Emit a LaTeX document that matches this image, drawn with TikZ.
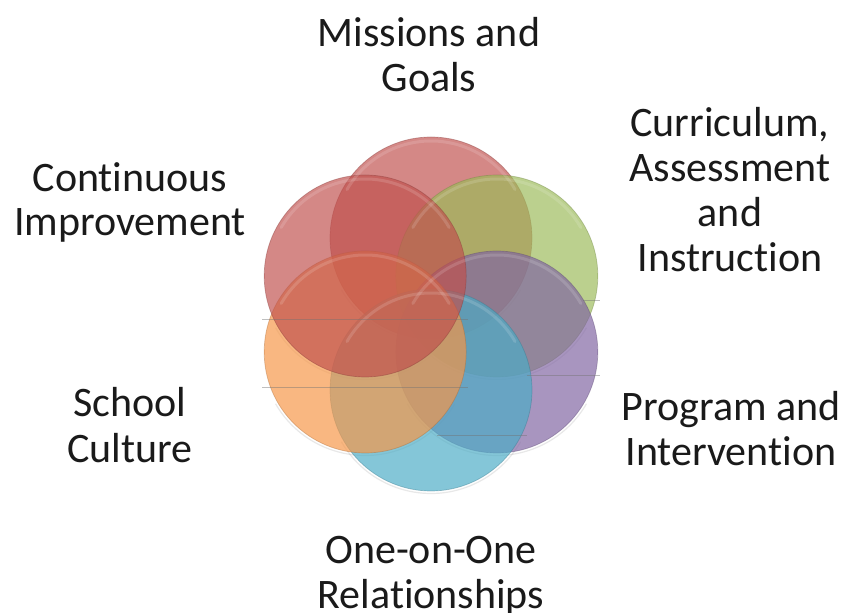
\documentclass[tikz,border=0pt]{standalone}
\usepackage{fontspec}
\setmainfont{Carlito}[RawFeature={-liga}]
\usetikzlibrary{calc}
\definecolor{accRed}{HTML}{C0504D}
\definecolor{accGreen}{HTML}{9BBB59}
\definecolor{accPurple}{HTML}{8064A2}
\definecolor{accAqua}{HTML}{4BACC6}
\definecolor{accOrange}{HTML}{F79646}
\definecolor{labelInk}{HTML}{1A1A1A}
\begin{document}
\begin{tikzpicture}[x=1pt,y=1pt]
\tikzset{
  petal/.style={circle, minimum size=202pt, inner sep=0pt, outer sep=0pt,
    fill=#1, fill opacity=0.68, draw=#1!70!black, draw opacity=0.4, line width=0.7pt},
  gloss/.style={white, opacity=0.14, line width=3pt, line cap=round},
  halo/.style={black!35, opacity=0.25, line width=1.2pt},
  seam/.style={black!55, opacity=0.45, line width=0.7pt},
  lbl/.style={font=\fontsize{42}{45}\selectfont, text=labelInk, anchor=base, inner sep=0pt},
}
\useasboundingbox (0,0) rectangle (844,613);
\fill[white] (0,0) rectangle (844,613);

% hub of the six overlapping circles
\coordinate (hub) at (431,299);

% faint rim below each circle
\foreach \a in {90,30,-30,-90,-150,150}
  \draw[halo] ($(hub)+(\a:76)+(-150:103.5)$) arc[start angle=-150, end angle=-30, radius=103.5];

% the six circles, back to front
\node[petal=accRed]    (goals)      at ($(hub)+(90:76)$)   {};
\node[petal=accGreen]  (curriculum) at ($(hub)+(30:76)$)   {};
\node[petal=accPurple] (program)    at ($(hub)+(-30:76)$)  {};
\node[petal=accAqua]   (relations)  at ($(hub)+(-90:76)$)  {};
\node[petal=accOrange] (culture)    at ($(hub)+(-150:76)$) {};
\node[petal=accRed]    (improve)    at ($(hub)+(150:76)$)  {};

% glossy band inside the top rim
\foreach \n in {goals,curriculum,program,relations,culture,improve}
  \draw[gloss] ([shift={(150:97)}]\n.center) arc[start angle=150, end angle=30, radius=97];

% thin seams across the cluster
\draw[seam] (262,294) -- (468,294);
\draw[seam] (262,226) -- (468,226);
\draw[seam] (527,238) -- (600,238);
\draw[seam] (583,313) -- (600,313);
\draw[seam] (437,178) -- (527,178);

% labels
\node[lbl] (goals-a) at (429,566) {Missions and};
\node[lbl] (goals-b) at (429,521) {Goals};

\node[lbl] (curr-a) at (730,476) {Curriculum,};
\node[lbl] (curr-b) at (730,431) {Assessment};
\node[lbl] (curr-c) at (730,386) {and};
\node[lbl] (curr-d) at (730,341) {Instruction};

\node[lbl] (impr-a) at (130,421) {Continuous};
\node[lbl] (impr-b) at (130,377) {Improvement};

\node[lbl] (cult-a) at (130,196) {School};
\node[lbl] (cult-b) at (130,150) {Culture};

\node[lbl] (prog-a) at (731,192) {Program and};
\node[lbl] (prog-b) at (731,147) {Intervention};

\node[lbl] (rel-a) at (431,49) {One-on-One};
\node[lbl] (rel-b) at (431,4) {Relationships};
\end{tikzpicture}
\end{document}
